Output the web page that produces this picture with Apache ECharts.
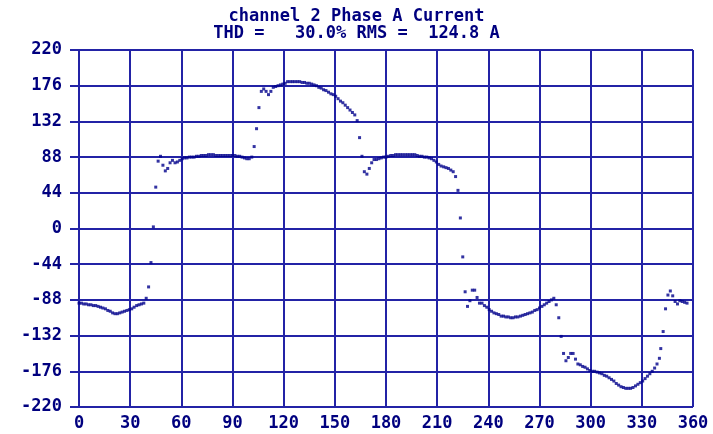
<!DOCTYPE html>
<html>
<head>
<meta charset="utf-8">
<script src="https://cdn.jsdelivr.net/npm/echarts@6/dist/echarts.min.js"></script>
<style>html,body{margin:0;padding:0;background:#fff}#c{width:713px;height:434px}</style>
</head>
<body>
<div id="c"></div>
<script>
const titleLine1 = "channel 2 Phase A Current";
const titleLine2 = "THD =   30.0% RMS =  124.8 A";
const xTicks = [0,30,60,90,120,150,180,210,240,270,300,330,360];
const yTicks = [-220,-176,-132,-88,-44,0,44,88,132,176,220];

const angle = [
0,1.4,2.8,4.2,5.6,7,8.4,9.8,11.2,12.6,14,15.5,16.9,18.3,19.7,21.1,22.5,23.9,25.3,26.7,28.1,29.5,30.9,32.3,33.8,35.2,36.6,38,39.4,
40.8,42.2,43.6,45,46.4,47.8,49.2,50.6,52,53.4,54.8,56.3,57.7,59.1,60.5,61.9,63.3,64.7,66.1,67.5,68.9,70.3,71.7,73.1,74.5,75.9,77.3,78.8,
80.2,81.6,83,84.4,85.8,87.2,88.6,90,91.4,92.8,94.2,95.6,97,98.4,99.8,101.3,102.7,104.1,105.5,106.9,108.3,109.7,111.1,112.5,113.9,115.3,
116.7,118.1,119.5,120.9,122.3,123.8,125.2,126.6,128,129.4,130.8,132.2,133.6,135,136.4,137.8,139.2,140.6,142,143.4,144.8,146.3,147.7,149.1,
150.5,151.9,153.3,154.7,156.1,157.5,158.9,160.3,161.7,163.1,164.5,165.9,167.3,168.8,170.2,171.6,173,174.4,175.8,177.2,178.6,180,181.4,
182.8,184.2,185.6,187,188.4,189.8,191.3,192.7,194.1,195.5,196.9,198.3,199.7,201.1,202.5,203.9,205.3,206.7,208.1,209.5,210.9,212.3,213.8,
215.2,216.6,218,219.4,220.8,222.2,223.6,225,226.4,227.8,229.2,230.6,232,233.4,234.8,236.3,237.7,239.1,240.5,241.9,243.3,244.7,246.1,
247.5,248.9,250.3,251.7,253.1,254.5,255.9,257.3,258.8,260.2,261.6,263,264.4,265.8,267.2,268.6,270,271.4,272.8,274.2,275.6,277,278.4,
279.8,281.3,282.7,284.1,285.5,286.9,288.3,289.7,291.1,292.5,293.9,295.3,296.7,298.1,299.5,300.9,302.3,303.8,305.2,306.6,308,309.4,
310.8,312.2,313.6,315,316.4,317.8,319.2,320.6,322,323.4,324.8,326.3,327.7,329.1,330.5,331.9,333.3,334.7,336.1,337.5,338.9,340.3,
341.1,342.5,343.9,345.3,346.7,348.1,349.5,350.9,352.3,353.7,355.1,356.5
];
const current = [
-92,-92,-93,-93,-94,-94,-95,-95,-96,-97,-98,-99,-101,-102,-104,-105,-105,-104,-103,-102,-101,-100,-99,-97,-95,-94,-93,-92,-86,
-72,-42,2,51,83,89,78,71,74,81,84,81,82,84,86,87,87,88,88,88,89,89,90,90,90,91,91,91,
90,90,90,90,90,90,90,90,90,89,89,88,87,86,86,88,101,123,149,169,172,169,165,169,174,175,
176,177,178,179,181,181,181,181,181,181,180,180,179,179,178,177,176,174,173,171,170,168,166,165,
163,160,157,155,152,149,146,143,140,133,112,89,70,67,74,81,85,85,86,87,88,88,89,
90,90,91,91,91,91,91,91,91,91,91,90,89,89,88,88,87,86,84,82,79,77,76,
75,74,72,70,64,47,13,-35,-78,-96,-89,-76,-76,-85,-92,-92,-95,-97,-100,-102,-104,-105,-106,
-108,-108,-109,-109,-110,-110,-109,-109,-108,-107,-106,-105,-104,-103,-101,-100,-98,-96,-94,-92,-90,-88,-86,
-94,-110,-133,-154,-163,-159,-154,-154,-161,-167,-168,-170,-171,-173,-175,-176,-176,-177,-178,-179,-181,-182,
-184,-186,-188,-191,-193,-195,-196,-197,-197,-197,-196,-194,-192,-190,-188,-185,-182,-179,-176,-172,-167,-160,
-148,-127,-99,-82,-77,-83,-90,-93,-89,-90,-91,-92
];

const points = angle.map((a, i) => [a, current[i]]);
const navy = '#00007f';
const gridBlue = '#2323a6';
const font = '"DejaVu Sans Mono", "Liberation Mono", monospace';

const chart = echarts.init(document.getElementById('c'), null, {renderer: 'canvas'});
chart.setOption({
  animation: false,
  backgroundColor: '#ffffff',
  title: {
    text: titleLine1 + '\n' + titleLine2,
    left: 'center',
    top: 3,
    textStyle: {fontFamily: font, fontSize: 17, fontWeight: 'bold', color: navy, lineHeight: 17}
  },
  grid: {left: 79, right: 20, top: 50, bottom: 27, containLabel: false},
  xAxis: {
    type: 'value', min: 0, max: 360, interval: 30,
    axisLine: {show: true, lineStyle: {color: gridBlue, width: 2}},
    axisTick: {show: true, length: 6, inside: false, lineStyle: {color: gridBlue, width: 2}},
    splitLine: {show: true, lineStyle: {color: gridBlue, width: 2}},
    axisLabel: {fontFamily: font, fontSize: 17, fontWeight: 'bold', color: navy, margin: 8,
      formatter: v => xTicks.includes(v) ? String(v) : ''}
  },
  yAxis: {
    type: 'value', min: -220, max: 220, interval: 44,
    axisLine: {show: true, lineStyle: {color: gridBlue, width: 2}},
    axisTick: {show: true, length: 9, inside: false, lineStyle: {color: gridBlue, width: 2}},
    splitLine: {show: true, lineStyle: {color: gridBlue, width: 2}},
    axisLabel: {fontFamily: font, fontSize: 17, fontWeight: 'bold', color: navy, margin: 17,
      formatter: v => yTicks.includes(v) ? String(v) : ''}
  },
  series: [{
    type: 'scatter',
    data: points,
    symbol: 'rect',
    symbolSize: 3,
    itemStyle: {color: '#00008b'},
    z: 5
  }]
});
</script>
</body>
</html>
